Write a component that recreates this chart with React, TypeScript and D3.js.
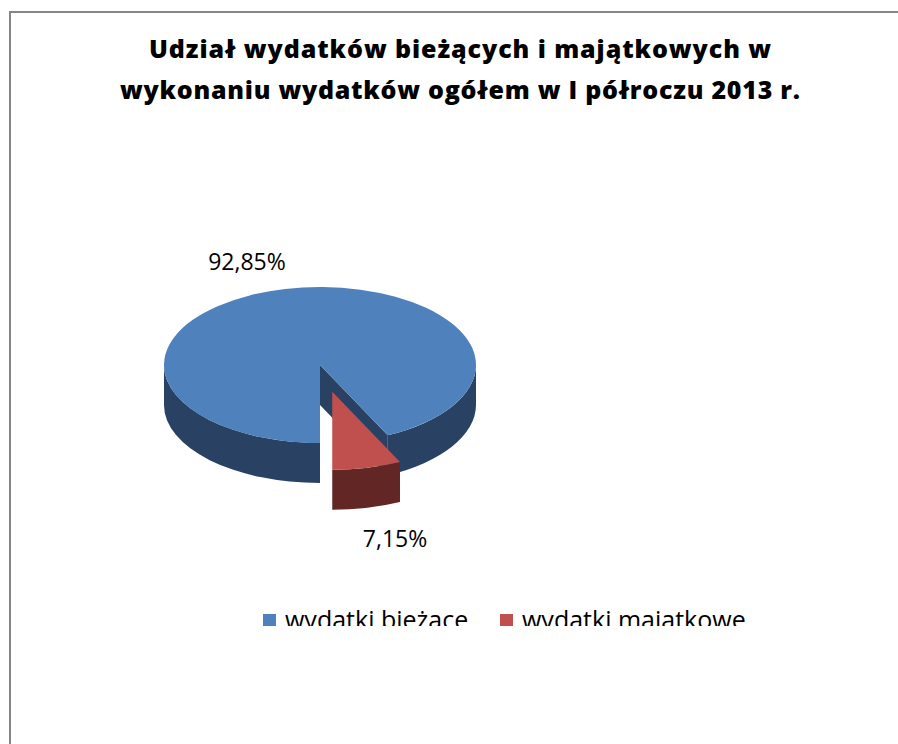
import React from "react";
import * as d3 from "d3";

const categories = ["wydatki bieżące", "wydatki majątkowe"];
const shares = [92.85, 7.15];
const shareLabels = ["92,85%", "7,15%"];
const titleLines = [
  "Udział wydatków bieżących i majątkowych w",
  "wykonaniu wydatków ogółem w I półroczu 2013 r.",
];

const width = 898;
const height = 744;
const cx = 320;
const cy = 365;
const rx = 156;
const ry = 78;
const depth = 40;
const squash = ry / rx;
const explode = [0, 55];
const topColors = ["#4F81BD", "#C0504D"];
const sideColors = ["#294263", "#622725"];
// label anchor (text centre x, baseline y)
const labelPos = [
  [247, 270],
  [395, 547],
];
const font = "'Open Sans', 'DejaVu Sans', sans-serif";

const pie = d3
  .pie<number>()
  .sort(null)
  .startAngle(Math.PI)
  .endAngle(3 * Math.PI);

const legendX = d3.scaleBand<string>().domain(categories).range([263, 737]);

export default function App() {
  const arcs = pie(shares);

  const slices = arcs.map((d, i) => {
    const mid = (d.startAngle + d.endAngle) / 2;
    const ox = explode[i] * Math.sin(mid);
    const oy = -explode[i] * Math.cos(mid) * squash;
    const pt = (a: number, r: number, z: number) =>
      [cx + ox + r * Math.sin(a), cy + oy - r * Math.cos(a) * squash + z] as [number, number];
    const c0 = pt(0, 0, 0);
    const c1 = pt(0, 0, depth);
    const a0 = d.startAngle;
    const a1 = d.endAngle;
    const large = a1 - a0 > Math.PI ? 1 : 0;
    const p0 = pt(a0, rx, 0);
    const p1 = pt(a1, rx, 0);
    const top = `M${c0}L${p0}A${rx},${ry} 0 ${large} 1 ${p1}Z`;

    // outer wall, front half only
    const sides: string[] = [];
    for (let k = 0; k < 3; k++) {
      const lo = Math.max(a0, Math.PI / 2 + 2 * Math.PI * k);
      const hi = Math.min(a1, (3 * Math.PI) / 2 + 2 * Math.PI * k);
      if (hi > lo) {
        const s0 = pt(lo, rx, 0);
        const s1 = pt(hi, rx, 0);
        const s2 = pt(hi, rx, depth);
        const s3 = pt(lo, rx, depth);
        sides.push(`M${s0}A${rx},${ry} 0 0 1 ${s1}L${s2}A${rx},${ry} 0 0 0 ${s3}Z`);
      }
    }

    // cut faces
    const faces: string[] = [];
    if (Math.sin(a0) < -1e-6) {
      faces.push(`M${c0}L${pt(a0, rx, 0)}L${pt(a0, rx, depth)}L${c1}Z`);
    }
    if (Math.sin(a1) > 1e-6) {
      faces.push(`M${c0}L${pt(a1, rx, 0)}L${pt(a1, rx, depth)}L${c1}Z`);
    }
    return { top, sides, faces, i };
  });

  return (
    <svg
      width={width}
      height={height}
      style={{ position: "absolute", left: 0, top: 0, background: "#fff" }}
    >
      <defs>
        <clipPath id="legendClip">
          <rect x={0} y={0} width={width} height={626} />
        </clipPath>
      </defs>
      <path d={`M10,${height}V12H${width}`} fill="none" stroke="#868686" strokeWidth={2} />

      {titleLines.map((t, i) => (
        <text
          key={i}
          x={460}
          y={58 + i * 41}
          textAnchor="middle"
          fontFamily={font}
          fontWeight={800}
          fontSize={25}
          textLength={i === 0 ? 622 : 680}
          lengthAdjust="spacing"
          fill="#000"
        >
          {t}
        </text>
      ))}

      {slices.map((s) => (
        <g key={s.i}>
          {s.faces.map((f, j) => (
            <path key={"f" + j} d={f} fill={sideColors[s.i]} />
          ))}
          {s.sides.map((f, j) => (
            <path key={"s" + j} d={f} fill={sideColors[s.i]} />
          ))}
          <path d={s.top} fill={topColors[s.i]} />
        </g>
      ))}

      {shareLabels.map((l, i) => (
        <text
          key={l}
          x={labelPos[i][0]}
          y={labelPos[i][1]}
          textAnchor="middle"
          fontFamily={font}
          fontSize={23}
          fill="#000"
        >
          {l}
        </text>
      ))}

      <g clipPath="url(#legendClip)">
        {categories.map((c, i) => (
          <g key={c} transform={`translate(${legendX(c)},614)`}>
            <rect x={0} y={0} width={13} height={13} fill={topColors[i]} />
            <text x={22} y={15} fontFamily={font} fontSize={25} fill="#000">
              {c}
            </text>
          </g>
        ))}
      </g>
    </svg>
  );
}
